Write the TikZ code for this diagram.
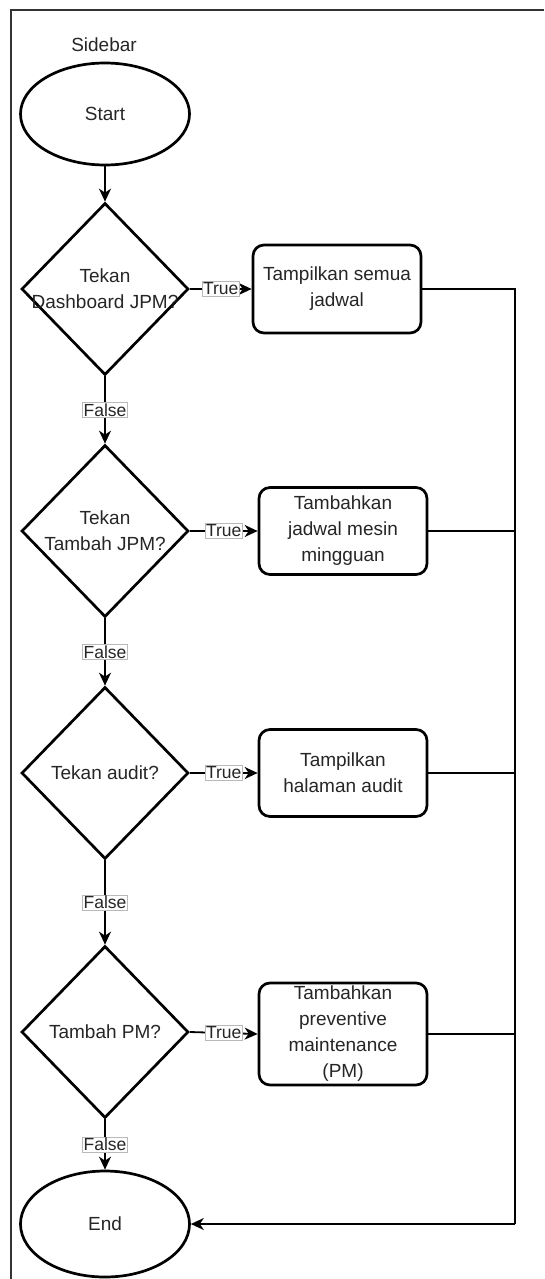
\documentclass[tikz,border=0pt]{standalone}
\usepackage{fontspec}
\setmainfont{Liberation Sans}
\usetikzlibrary{shapes.geometric,arrows.meta}
\tikzset{
  shapeline/.style={draw=black, line width=2.7pt, fill=white, align=center, text=black!85,
    font=\fontsize{19}{26}\selectfont, inner sep=0pt},
  termnode/.style={shapeline, ellipse, minimum width=169pt, minimum height=102pt},
  decnode/.style={shapeline, diamond, minimum width=167pt, minimum height=172pt,
    label={[align=center, text=black!85, font=\fontsize{19}{26}\selectfont]center:#1}},
  procnode/.style={shapeline, rectangle, rounded corners=11pt, minimum width=168pt},
  conn/.style={draw=black, line width=1.8pt, -{Stealth[length=13pt,width=12pt,inset=4pt]}},
  railline/.style={draw=black, line width=1.5pt},
  edgelabel/.style={fill=white, draw=gray!55, line width=0.6pt, inner sep=1.2pt,
    text=black!85, font=\fontsize{17.5}{20}\selectfont},
  framestyle/.style={draw=black!80, line width=1.3pt}
}
\begin{document}
\begin{tikzpicture}[x=1pt,y=-1pt]
\useasboundingbox (0,0) rectangle (544,1279);
% frame
\draw[framestyle] (544,10) -- (11,10) -- (11,1279);
\node[font=\fontsize{19}{22}\selectfont, text=black!85] (title) at (104,45) {Sidebar};

% nodes
\node[termnode] (start) at (105,114) {Start};
\node[decnode={Tekan\\Dashboard JPM?}] (d1) at (105,289) {};
\node[procnode, minimum height=88pt] (p1) at (337,289) {Tampilkan semua\\jadwal};
\node[decnode={Tekan\\Tambah JPM?}] (d2) at (105,531) {};
\node[procnode, minimum height=87pt] (p2) at (343,531) {Tambahkan\\jadwal mesin\\mingguan};
\node[decnode={Tekan audit?}] (d3) at (105,773) {};
\node[procnode, minimum height=87pt] (p3) at (343,773) {Tampilkan\\halaman audit};
\node[decnode={Tambah PM?}] (d4) at (105,1032) {};
\node[procnode, minimum height=102pt] (p4) at (343,1034) {Tambahkan\\preventive\\maintenance\\(PM)};
\node[termnode, minimum height=106pt] (end) at (105,1224) {End};

\coordinate (railtop) at (515,289);
\coordinate (railbot) at (515,1224);

% vertical flow
\draw[conn] (start) -- (d1);
\draw[conn] (d1) -- node[edgelabel] {False} (d2);
\draw[conn] (d2) -- node[edgelabel] {False} (d3);
\draw[conn] (d3) -- node[edgelabel] {False} (d4);
\draw[conn] (d4) -- node[edgelabel] {False} (end);

% true branches
\draw[conn] (d1.east) -- node[edgelabel] {True} (p1.west);
\draw[conn] (d2.east) -- node[edgelabel] {True} (p2.west);
\draw[conn] (d3.east) -- node[edgelabel] {True} (p3.west);
\draw[conn] (d4.east) -- node[edgelabel] {True} (p4.west);

% return rail
\draw[railline] (p1.east) -- (railtop) -- (railbot);
\draw[conn, line width=1.5pt] (railbot) -- (end.east);
\draw[railline] (p2.east) -- (p2.east -| railtop);
\draw[railline] (p3.east) -- (p3.east -| railtop);
\draw[railline] (p4.east) -- (p4.east -| railtop);
\end{tikzpicture}
\end{document}
